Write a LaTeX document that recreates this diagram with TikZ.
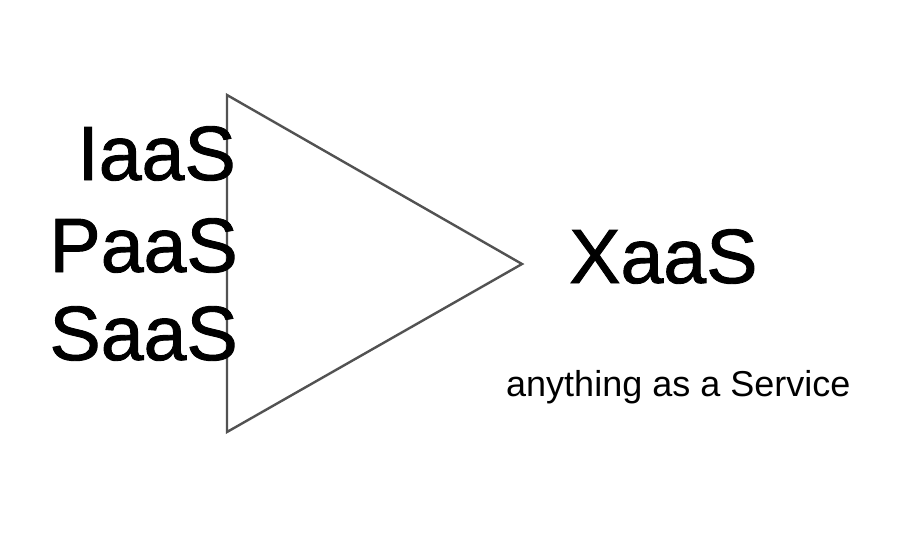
\documentclass[tikz,border=0pt]{standalone}
\usepackage{fontspec}
\setmainfont{Liberation Sans}
\newfontfamily\heavyfont[FakeBold=1.2]{Liberation Sans}
\begin{document}
\begin{tikzpicture}[x=1pt,y=-1pt,
  big/.style={font=\heavyfont\fontsize{77}{80}\selectfont, inner sep=0pt},
  small/.style={font=\fontsize{36}{40}\selectfont, inner sep=0pt}]
\useasboundingbox (0,0) rectangle (900,558);
\fill[white] (0,0) rectangle (900,558);
\coordinate (t1) at (227,95);
\coordinate (t2) at (227,432);
\coordinate (t3) at (522,264);
\draw[line width=2.4pt, color=black!68, line join=miter] (t1) -- (t3) -- (t2) -- cycle;
\node[big, anchor=base east] (iaas) at (236,180) {IaaS};
\node[big, anchor=base east] (paas) at (238,272) {PaaS};
\node[big, anchor=base east] (saas) at (238,360) {SaaS};
\node[big, anchor=base west] (xaas) at (569,283) {XaaS};
\node[small, anchor=base west] (sub) at (506,396) {anything as a Service};
\end{tikzpicture}
\end{document}
